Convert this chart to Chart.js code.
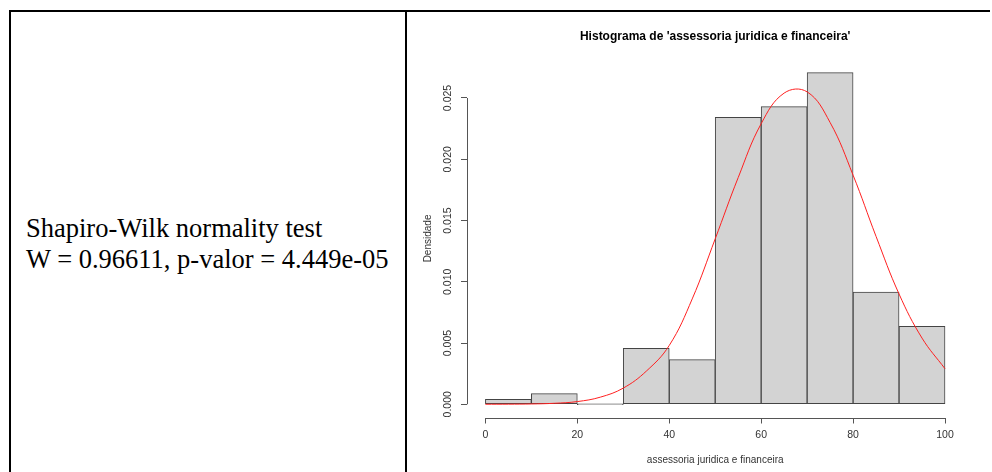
<!DOCTYPE html>
<html>
<head>
<meta charset="utf-8">
<script src="https://cdn.jsdelivr.net/npm/chart.js@4/dist/chart.umd.min.js"></script>
<style>
  body { margin: 0; background: #fff; width: 992px; height: 472px; overflow: hidden; position: relative; }
  #left { position: absolute; left: 9px; top: 10px; width: 394px; height: 480px;
          border-left: 2px solid #000; border-top: 2px solid #000; border-right: 2px solid #000; }
  #topline { position: absolute; left: 405px; top: 10px; width: 585px; height: 2px; background: #000; }
  #stats { position: absolute; left: 15px; top: 201px; font-family: "Liberation Serif", "Times New Roman", serif;
           font-size: 26.5px; line-height: 31px; color: #000; white-space: nowrap; }
  #wrap { position: absolute; left: 408px; top: 12px; width: 582px; height: 460px; }
</style>
</head>
<body>
<div id="left">
  <div id="stats">Shapiro-Wilk normality test<br>W = 0.96611, p-valor = 4.449e-05</div>
</div>
<div id="topline"></div>
<div id="wrap"><canvas id="hist"></canvas></div>
<script>
// histogram bins (mid points) and density per bin
const binMids = [5, 15, 25, 35, 45, 55, 65, 75, 85, 95];
const density = [0.0004, 0.00087, 0, 0.00457, 0.00365, 0.02342, 0.02429, 0.02707, 0.00915, 0.00637];

// fitted normal curve, read at steps of 5
const curveX = [0, 5, 10, 15, 20, 25, 30, 35, 40, 45, 50, 55, 60, 65, 70, 75, 80, 85, 90, 95, 100];
const curveY = [0.000002, 0.000007, 0.000025, 0.00008, 0.00022, 0.00058, 0.00132, 0.0027, 0.0048, 0.0086,
                0.0135, 0.0185, 0.0229, 0.0254, 0.0255, 0.0230, 0.0187, 0.0137, 0.0090, 0.0054, 0.0029];

const xTicks = [0, 20, 40, 60, 80, 100];
const yTicks = [0, 0.005, 0.010, 0.015, 0.020, 0.025];

const axisGray = '#555';
const labelGray = '#333';

// R style axis lines: only from first to last tick
const rAxes = {
  id: 'rAxes',
  afterDraw(chart) {
    const {ctx, chartArea, scales} = chart;
    ctx.save();
    ctx.strokeStyle = axisGray;
    ctx.lineWidth = 1;
    const yb = Math.round(chartArea.bottom) + 0.5;
    const xl = Math.round(chartArea.left) + 0.5;
    ctx.beginPath();
    ctx.moveTo(scales.x.getPixelForValue(xTicks[0]), yb);
    ctx.lineTo(scales.x.getPixelForValue(xTicks[xTicks.length - 1]), yb);
    ctx.moveTo(xl, scales.y.getPixelForValue(yTicks[0]));
    ctx.lineTo(xl, scales.y.getPixelForValue(yTicks[yTicks.length - 1]));
    ctx.stroke();
    ctx.restore();
  }
};

new Chart(document.getElementById('hist'), {
  data: {
    datasets: [
      {
        type: 'line',
        data: curveX.map((x, i) => ({x: x, y: curveY[i]})),
        borderColor: '#ff2020',
        borderWidth: 1,
        pointRadius: 0,
        tension: 0.4,
        order: 0
      },
      {
        type: 'bar',
        data: binMids.map((x, i) => ({x: x, y: density[i]})),
        backgroundColor: '#d3d3d3',
        borderColor: '#444',
        borderWidth: 1,
        borderSkipped: false,
        minBarLength: 1,
        barPercentage: 1,
        categoryPercentage: 1,
        order: 1
      }
    ]
  },
  options: {
    responsive: true,
    maintainAspectRatio: false,
    animation: false,
    layout: { padding: { left: 0, right: 26.6, top: 0, bottom: 0 } },
    plugins: {
      legend: { display: false },
      tooltip: { enabled: false },
      title: {
        display: true,
        fullSize: false,
        text: "Histograma de 'assessoria juridica e financeira'",
        color: '#000',
        font: { family: 'Arial, "Liberation Sans", sans-serif', size: 12, weight: 'bold' },
        padding: { top: 17.5, bottom: 15.5 }
      }
    },
    scales: {
      x: {
        type: 'linear',
        offset: false,
        min: -4,
        max: 104,
        afterFit: s => { s.height = 54.5; },
        afterBuildTicks: s => { s.ticks = xTicks.map(v => ({value: v})); },
        grid: { offset: false, drawOnChartArea: false, drawTicks: true, tickLength: 6, color: axisGray },
        border: { display: false },
        ticks: {
          color: labelGray,
          padding: 5,
          font: { family: 'Arial, "Liberation Sans", sans-serif', size: 10.5 },
          maxRotation: 0,
          callback: v => String(v)
        },
        title: {
          display: true,
          text: 'assessoria juridica e financeira',
          color: labelGray,
          font: { family: 'Arial, "Liberation Sans", sans-serif', size: 10 },
          padding: { top: 0, bottom: 6 }
        }
      },
      y: {
        type: 'linear',
        min: -0.00108,
        max: 0.02815,
        afterFit: s => { s.width = 59; },
        afterBuildTicks: s => { s.ticks = yTicks.map(v => ({value: v})); },
        grid: { drawOnChartArea: false, drawTicks: true, tickLength: 6, color: axisGray },
        border: { display: false },
        ticks: {
          color: labelGray,
          padding: 0,
          crossAlign: 'center',
          minRotation: 90,
          maxRotation: 90,
          font: { family: 'Arial, "Liberation Sans", sans-serif', size: 10.5 },
          callback: v => v.toFixed(3)
        },
        title: {
          display: true,
          text: 'Densidade',
          color: labelGray,
          font: { family: 'Arial, "Liberation Sans", sans-serif', size: 10 },
          padding: { top: 14, bottom: 0 }
        }
      }
    }
  },
  plugins: [rAxes]
});
</script>
</body>
</html>
